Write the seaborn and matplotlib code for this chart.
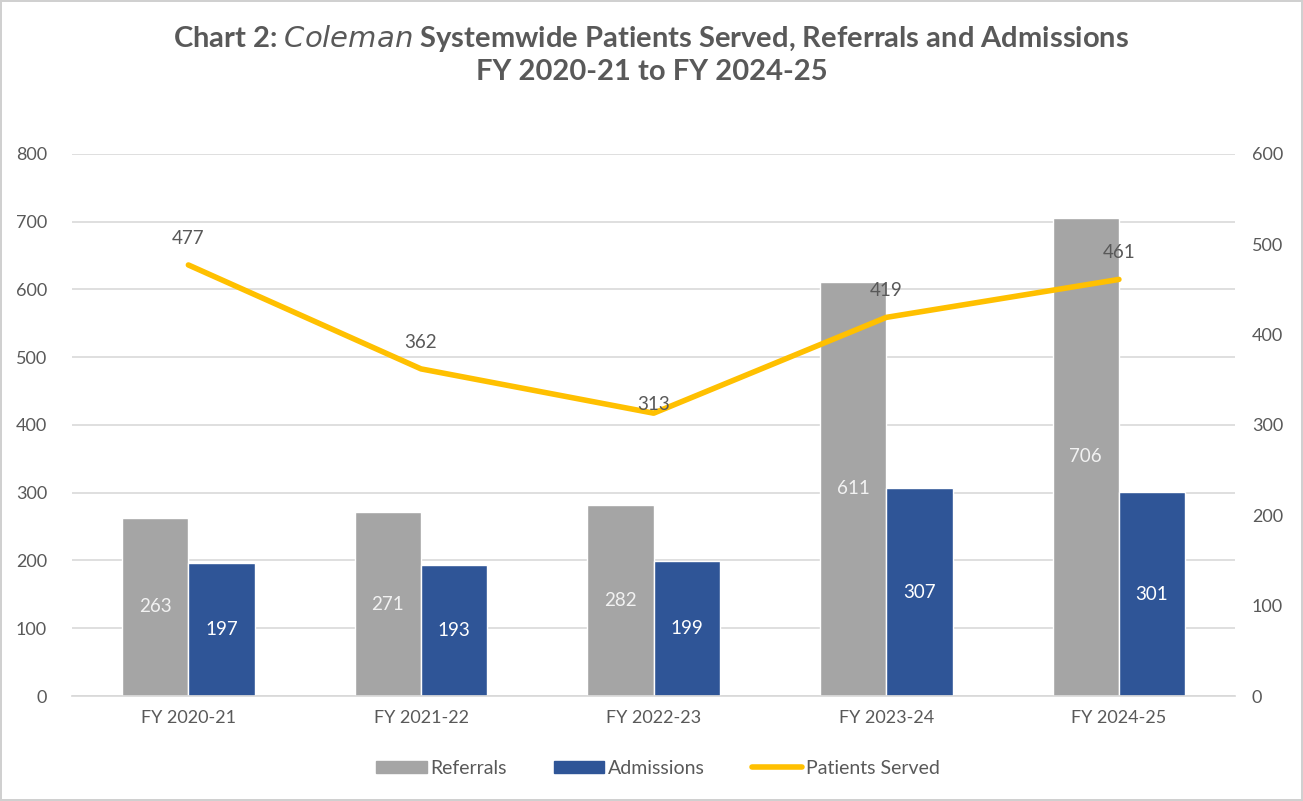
import numpy as np
import pandas as pd
import matplotlib
matplotlib.use("Agg")
import matplotlib.pyplot as plt
import seaborn as sns
from matplotlib.patches import Patch
from matplotlib.lines import Line2D

years = ["FY 2020-21", "FY 2021-22", "FY 2022-23", "FY 2023-24", "FY 2024-25"]
referrals = [263, 271, 282, 611, 706]
admissions = [197, 193, 199, 307, 301]
patients_served = [477, 362, 313, 419, 461]

GRAY = "#A5A5A5"
BLUE = "#2F5597"
GOLD = "#FFC000"
TEXT = "#595959"

sns.set_theme(style="white")
plt.rcParams["font.family"] = ["Lato", "DejaVu Sans"]

df = pd.DataFrame({
    "year": years * 2,
    "series": ["Referrals"] * len(years) + ["Admissions"] * len(years),
    "value": referrals + admissions,
})

fig = plt.figure(figsize=(13.03, 8.01), dpi=100)
fig.patch.set_edgecolor("#D0D0D0")
fig.patch.set_linewidth(1.5)
ax = fig.add_axes([0.0553, 0.131, 0.8927, 0.677])

sns.barplot(data=df, x="year", y="value", hue="series", order=years,
            hue_order=["Referrals", "Admissions"], palette=[GRAY, BLUE],
            width=0.57, saturation=1, ax=ax, legend=False)

# value labels in the middle of each bar
for cont, color in zip(ax.containers, ["#F2F2F2", "white"]):
    ax.bar_label(cont, label_type="center", color=color, fontsize=13.5)

ax.set_ylim(0, 800)
ax.set_yticks(range(0, 801, 100))
ax.set_xlim(-0.5, len(years) - 0.5)
ax.yaxis.grid(True, color="#D9D9D9", linewidth=1.2)
ax.set_axisbelow(True)
ax.set_xlabel("")
ax.set_ylabel("")
for s in ["top", "right", "left"]:
    ax.spines[s].set_visible(False)
ax.spines["bottom"].set_color("#D9D9D9")
ax.tick_params(axis="both", colors=TEXT, labelsize=13, length=0)
ax.tick_params(axis="y", pad=18)
ax.tick_params(axis="x", pad=10)

# Patients Served on the secondary axis
ax2 = ax.twinx()
xpos = np.arange(len(years))
sns.lineplot(x=xpos, y=patients_served, color=GOLD, linewidth=4, ax=ax2)
ax2.set_ylim(0, 600)
ax2.set_yticks(range(0, 601, 100))
for s in ["top", "right", "left", "bottom"]:
    ax2.spines[s].set_visible(False)
ax2.tick_params(axis="y", colors=TEXT, labelsize=13, length=0, pad=12)

label_offsets = [13, 13, 0, 13, 13]
for x, v, off in zip(xpos, patients_served, label_offsets):
    ax2.annotate(str(v), (x, v), xytext=(0, off), textcoords="offset points",
                 ha="center", va="bottom", color=TEXT, fontsize=13.5)

fig.text(0.5, 0.952, r"Chart 2: $\it{Coleman}$ Systemwide Patients Served, Referrals and Admissions",
         ha="center", va="center", fontsize=21, fontweight="bold", color=TEXT)
fig.text(0.5, 0.91, "FY 2020-21 to FY 2024-25",
         ha="center", va="center", fontsize=21, fontweight="bold", color=TEXT)

handles = [Patch(color=GRAY, label="Referrals"),
           Patch(color=BLUE, label="Admissions"),
           Line2D([], [], color=GOLD, linewidth=4, label="Patients Served")]
fig.legend(handles=handles, loc="center", bbox_to_anchor=(0.505, 0.041), ncol=3,
           frameon=False, fontsize=14, labelcolor=TEXT, handlelength=2.6,
           handleheight=0.6, columnspacing=2.4, handletextpad=0.2)

fig.savefig("out.png", dpi=100)
